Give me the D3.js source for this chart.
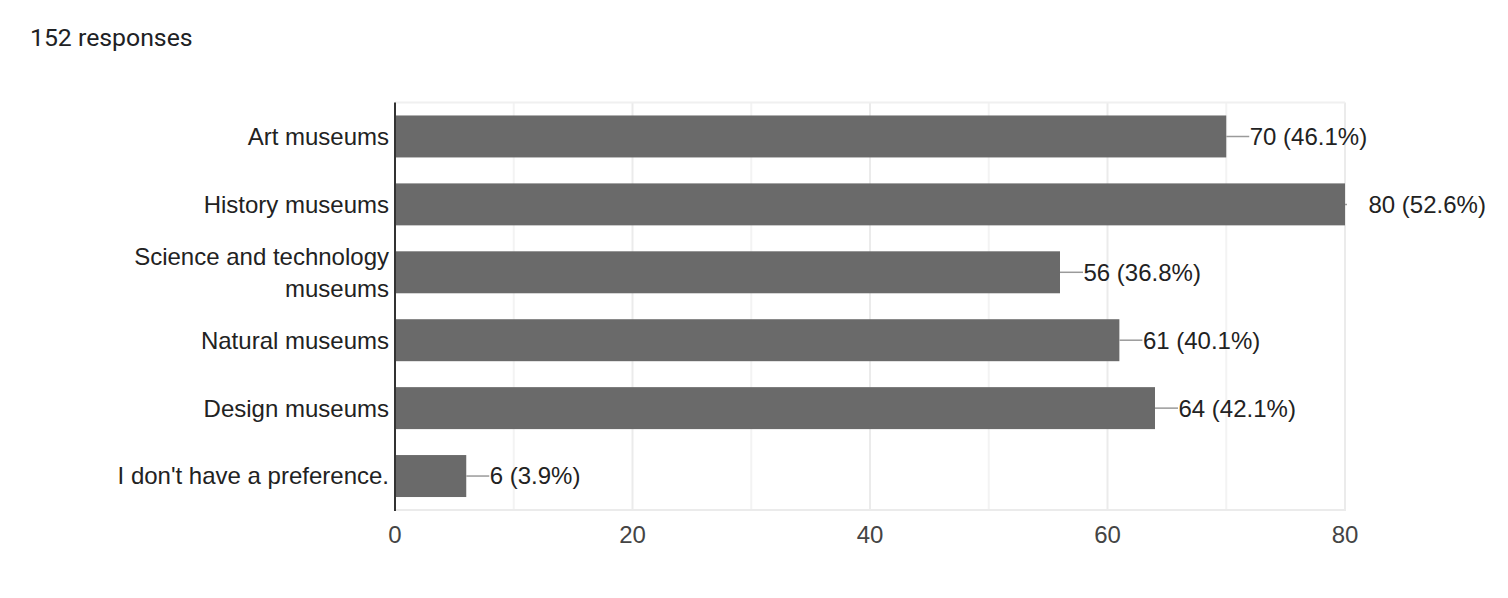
<!DOCTYPE html>
<html><head><meta charset="utf-8">
<script src="https://cdn.jsdelivr.net/npm/d3@7"></script>
<style>
html,body{margin:0;padding:0;background:#fff;}
svg{display:block;}
</style></head>
<body>
<svg id="chart" width="1508" height="598"></svg>
<script>
const title = "152 responses";
const categories = [["Art museums"],["History museums"],["Science and technology","museums"],["Natural museums"],["Design museums"],["I don't have a preference."]];
const values = [70, 80, 56, 61, 64, 6];
const percents = ["46.1%","52.6%","36.8%","40.1%","42.1%","3.9%"];
const xTicks = [0, 20, 40, 60, 80];
const minorTicks = [10, 30, 50, 70];

(function(){
const svg = d3.select("#chart");
const pL = 395, pR = 1345, pT = 102.5, pB = 510;
const x = d3.scaleLinear().domain([0, 80]).range([pL, pR]);
const y = d3.scaleBand().domain(d3.range(categories.length)).range([pT, pB]).paddingInner(0.382).paddingOuter(0.191);
const FF = "'Liberation Sans', Arial, sans-serif";

svg.append("text").attr("x", 30).attr("y", 46).text(title)
  .attr("font-family", "Roboto, sans-serif").attr("font-size", 24.8).attr("fill", "#202124");

// grid
svg.selectAll(".minor").data(minorTicks).enter().append("line")
  .attr("x1", d => x(d)).attr("x2", d => x(d)).attr("y1", pT).attr("y2", pB)
  .attr("stroke", "#f3f3f3").attr("stroke-width", 2);
svg.selectAll(".major").data(xTicks.slice(1)).enter().append("line")
  .attr("x1", d => x(d)).attr("x2", d => x(d)).attr("y1", pT).attr("y2", pB)
  .attr("stroke", "#ebebeb").attr("stroke-width", 2);
svg.append("line").attr("x1", pL).attr("x2", pR).attr("y1", pT).attr("y2", pT)
  .attr("stroke", "#f0f0f0").attr("stroke-width", 2);
svg.append("line").attr("x1", pL).attr("x2", pR+1).attr("y1", pB).attr("y2", pB)
  .attr("stroke", "#ebebeb").attr("stroke-width", 2);

svg.append("defs").append("clipPath").attr("id", "clip").append("rect")
  .attr("x", pL).attr("y", pT).attr("width", pR - pL + 2).attr("height", pB - pT);

// bars
svg.selectAll(".bar").data(values).enter().append("rect")
  .attr("x", x(0)).attr("y", (d, i) => y(i)).attr("width", d => x(d) - x(0)).attr("height", y.bandwidth())
  .attr("fill", "#6a6a6a");

// leaders
svg.append("g").attr("clip-path", "url(#clip)").selectAll("line").data(values).enter().append("line")
  .attr("x1", d => x(d)).attr("x2", d => x(d) + 23)
  .attr("y1", (d, i) => y(i) + y.bandwidth()/2).attr("y2", (d, i) => y(i) + y.bandwidth()/2)
  .attr("stroke", "#9a9a9a").attr("stroke-width", 1.5);

svg.selectAll(".val").data(values).enter().append("text")
  .attr("x", d => x(d) + 23.5).attr("y", (d, i) => y(i) + y.bandwidth()/2).attr("dy", "0.35em")
  .text((d, i) => d + " (" + percents[i] + ")")
  .attr("font-family", FF).attr("font-size", 24).attr("fill", "#222");

// axis line
svg.append("line").attr("x1", pL).attr("x2", pL).attr("y1", pT).attr("y2", pB + 1)
  .attr("stroke", "#333").attr("stroke-width", 2);

// category labels
const cl = svg.selectAll(".cat").data(categories).enter().append("text")
  .attr("text-anchor", "end").attr("font-family", FF)
  .attr("font-size", 24).attr("fill", "#222");
cl.each(function(lines, i) {
  const t = d3.select(this);
  const cy = y(i) + y.bandwidth()/2;
  const lh = 32;
  lines.forEach((ln, j) => {
    t.append("tspan").attr("x", 389).attr("y", cy + (j - (lines.length - 1)/2) * lh).attr("dy", "0.35em").text(ln);
  });
});

// x tick labels
svg.selectAll(".tick").data(xTicks).enter().append("text")
  .attr("x", d => x(d)).attr("y", 535).attr("dy", "0.35em").attr("text-anchor", "middle")
  .text(d => d).attr("font-family", FF)
  .attr("font-size", 24).attr("fill", "#444");
})();
</script>
</body></html>
